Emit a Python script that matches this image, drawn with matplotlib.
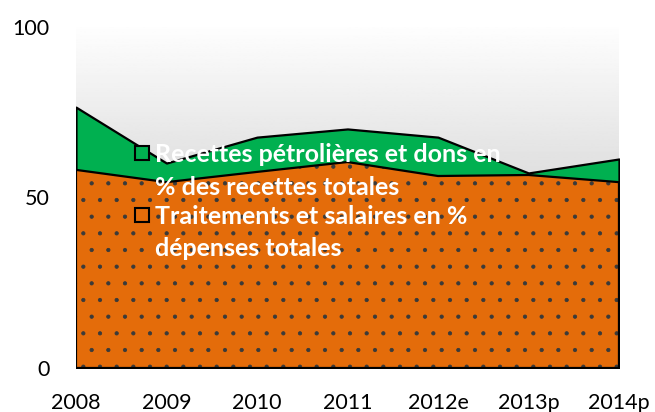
import numpy as np
import matplotlib.pyplot as plt
from matplotlib.patches import Rectangle

years = ['2008', '2009', '2010', '2011', '2012e', '2013p', '2014p']
recettes = [76.5, 60.1, 67.7, 70.1, 67.7, 57.2, 61.3]
salaires = [58.1, 54.5, 57.5, 60.4, 56.3, 56.6, 54.5]
labels = ['Recettes pétrolières et dons en\n% des recettes totales',
          'Traitements et salaires en %\ndépenses totales']
green = '#00B050'
orange = '#E46C0A'

plt.rcParams['font.family'] = ['Lato', 'DejaVu Sans']
plt.rcParams['hatch.linewidth'] = 0.6

W, H = 655, 412
fig = plt.figure(figsize=(W / 100, H / 100), dpi=100)
ax = fig.add_axes([0.116, 0.1068, 0.829, 0.8277])
x = np.arange(len(years))

# grey gradient background (white at top)
grad = np.linspace(0.72, 0.995, 256).reshape(-1, 1)
ax.imshow(grad, cmap='gray', vmin=0, vmax=1, aspect='auto',
          extent=[0, 6, 0, 100], zorder=0, origin='lower')

ax.fill_between(x, 0, recettes, facecolor=green, edgecolor='black', linewidth=1.6, zorder=2)
ax.fill_between(x, 0, salaires, facecolor=orange, edgecolor='#3a3a3a', linewidth=0,
                hatch='.', zorder=3)
ax.fill_between(x, 0, salaires, facecolor='none', edgecolor='black', linewidth=1.6, zorder=4)

ax.set_xlim(0, 6)
ax.set_ylim(0, 100)
ax.set_xticks(x)
ax.set_xticklabels(years)
ax.set_yticks([0, 50, 100])
ax.tick_params(length=0, labelsize=15.5, colors='black')
ax.tick_params(axis='y', pad=19)
ax.tick_params(axis='x', pad=18)
for s in ax.spines.values():
    s.set_visible(False)

# legend drawn by hand (pixel positions from the top-left corner)
def px(xp, yp):
    return xp / W, 1 - yp / H

colors = [green, orange]
marker_top = [146, 208]
baselines = [[162, 195], [224, 256]]
for lab, col, mt, bl in zip(labels, colors, marker_top, baselines):
    x0, y0 = px(135, mt + 14)
    fig.add_artist(Rectangle((x0, y0), 14 / W, 14 / H, transform=fig.transFigure,
                             facecolor=col, edgecolor='black', linewidth=1.5, zorder=5))
    for line, b in zip(lab.split('\n'), bl):
        tx, ty = px(155, b)
        fig.text(tx, ty, line, color='white', fontsize=18, fontweight='bold',
                 va='baseline', ha='left', zorder=6)

fig.savefig('out.png', dpi=100)
